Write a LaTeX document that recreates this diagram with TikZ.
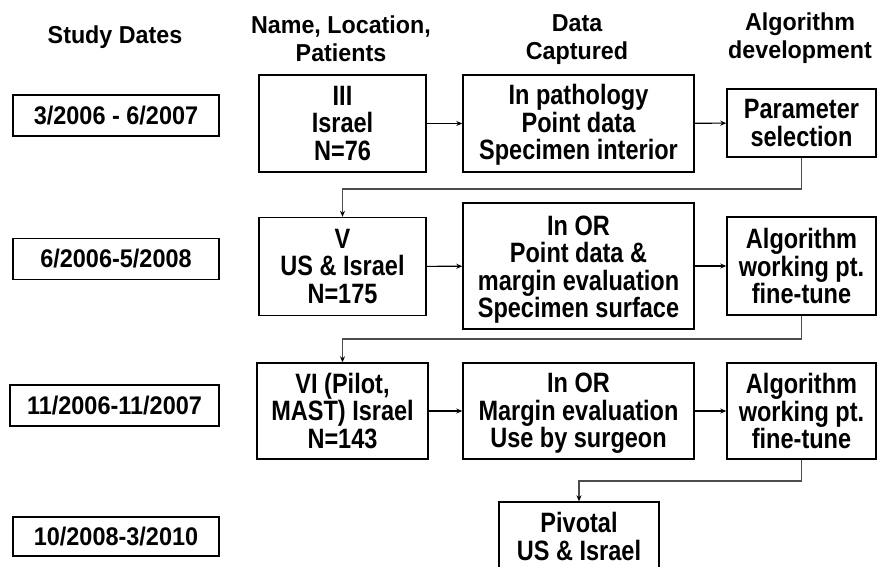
\documentclass[tikz,border=0pt]{standalone}
\usepackage{fontspec}
\setmainfont{Liberation Sans}
\newfontfamily\bodyfam{Liberation Sans}[FakeStretch=0.84]
\newfontfamily\headfam{Liberation Sans}[FakeStretch=0.95]
\newfontfamily\datefam{Liberation Sans}[FakeStretch=0.92]
\usetikzlibrary{arrows.meta}

\begin{document}
\begin{tikzpicture}[x=1pt,y=-1pt,
  box/.style={draw, line width=1.4pt, align=center, inner sep=0pt,
    font=\bodyfam\bfseries\fontsize{28}{27.6}\selectfont},
  datebox/.style={draw, line width=1.4pt, inner sep=0pt,
    minimum width=206pt, minimum height=41pt,
    font=\datefam\bfseries\fontsize{25.5}{28}\selectfont},
  head/.style={align=center, inner sep=0pt,
    font=\headfam\bfseries\fontsize{24.5}{28}\selectfont},
  flow/.style={line width=1.1pt, -{Stealth[length=6pt,width=5pt]}},
  back/.style={line width=1.8pt, draw=black!70,
    -{Stealth[length=6pt,width=5pt,black]}}
]
\useasboundingbox (0,0) rectangle (878,567);
\clip (0,0) rectangle (878,567);

% column headings
\node[head] (hdates) at (115,37) {Study Dates};
\node[head] (hname) at (341,38.5) {Name, Location,\\Patients};
\node[head] (hdata) at (577,40) {Data\\Captured};
\node[head] (halg) at (800,38.5) {Algorithm\\development};

% study dates
\node[datebox] (d1) at (116,115.5) {3/2006 - 6/2007};
\node[datebox] (d2) at (116,259) {6/2006-5/2008};
\node[datebox, minimum width=209pt] (d3) at (114.5,405.5) {11/2006-11/2007};
\node[datebox, minimum height=39pt] (d4) at (116,536.5) {10/2008-3/2010};

% row 1
\node[box, minimum width=167pt, minimum height=97pt] (s3) at (342.5,123.5)
  {III\\Israel\\N=76};
\node[box, minimum width=231pt, minimum height=97pt] (c1) at (578.5,123.5)
  {\rule{0pt}{23pt}In pathology\\Point data\\Specimen interior};
\node[box, minimum width=149pt, minimum height=68pt] (a1) at (801.5,123)
  {Parameter\\selection};

% row 2
\node[box, minimum width=167pt, minimum height=98pt] (s5) at (342.5,266.5)
  {V\\US \& Israel\\N=175};
\node[box, minimum width=231pt, minimum height=126pt] (c2) at (578.5,266)
  {\rule{0pt}{27pt}In OR\\Point data \&\\margin evaluation\\Specimen surface};
\node[box, minimum width=149pt, minimum height=98pt] (a2) at (801.5,266)
  {Algorithm\\working pt.\\fine-tune};

% row 3
\node[box, minimum width=171pt, minimum height=96pt] (s6) at (342.5,411)
  {VI (Pilot,\\MAST) Israel\\N=143};
\node[box, minimum width=231pt, minimum height=96pt] (c3) at (578.5,411)
  {\rule{0pt}{24pt}In OR\\Margin evaluation\\Use by surgeon};
\node[box, minimum width=149pt, minimum height=96pt] (a3) at (801.5,411)
  {Algorithm\\working pt.\\fine-tune};

% row 4
\node[box, minimum width=160pt, minimum height=69pt] (piv) at (579,536.5)
  {Pivotal\\US \& Israel};

% flow within rows
\draw[flow] (s3) -- (c1);
\draw[flow] (c1) -- (a1);
\draw[flow] (s5) -- (c2);
\draw[flow] (c2) -- (a2);
\draw[flow] (s6) -- (c3);
\draw[flow] (c3) -- (a3);

% flow to the next study
\draw[back] (a1.south) -- ++(0,31) -| (s5.north);
\draw[back] (a2.south) -- ++(0,23) -| (s6.north);
\draw[back] (a3.south) -- ++(0,21) -| (piv.north);
\end{tikzpicture}
\end{document}
